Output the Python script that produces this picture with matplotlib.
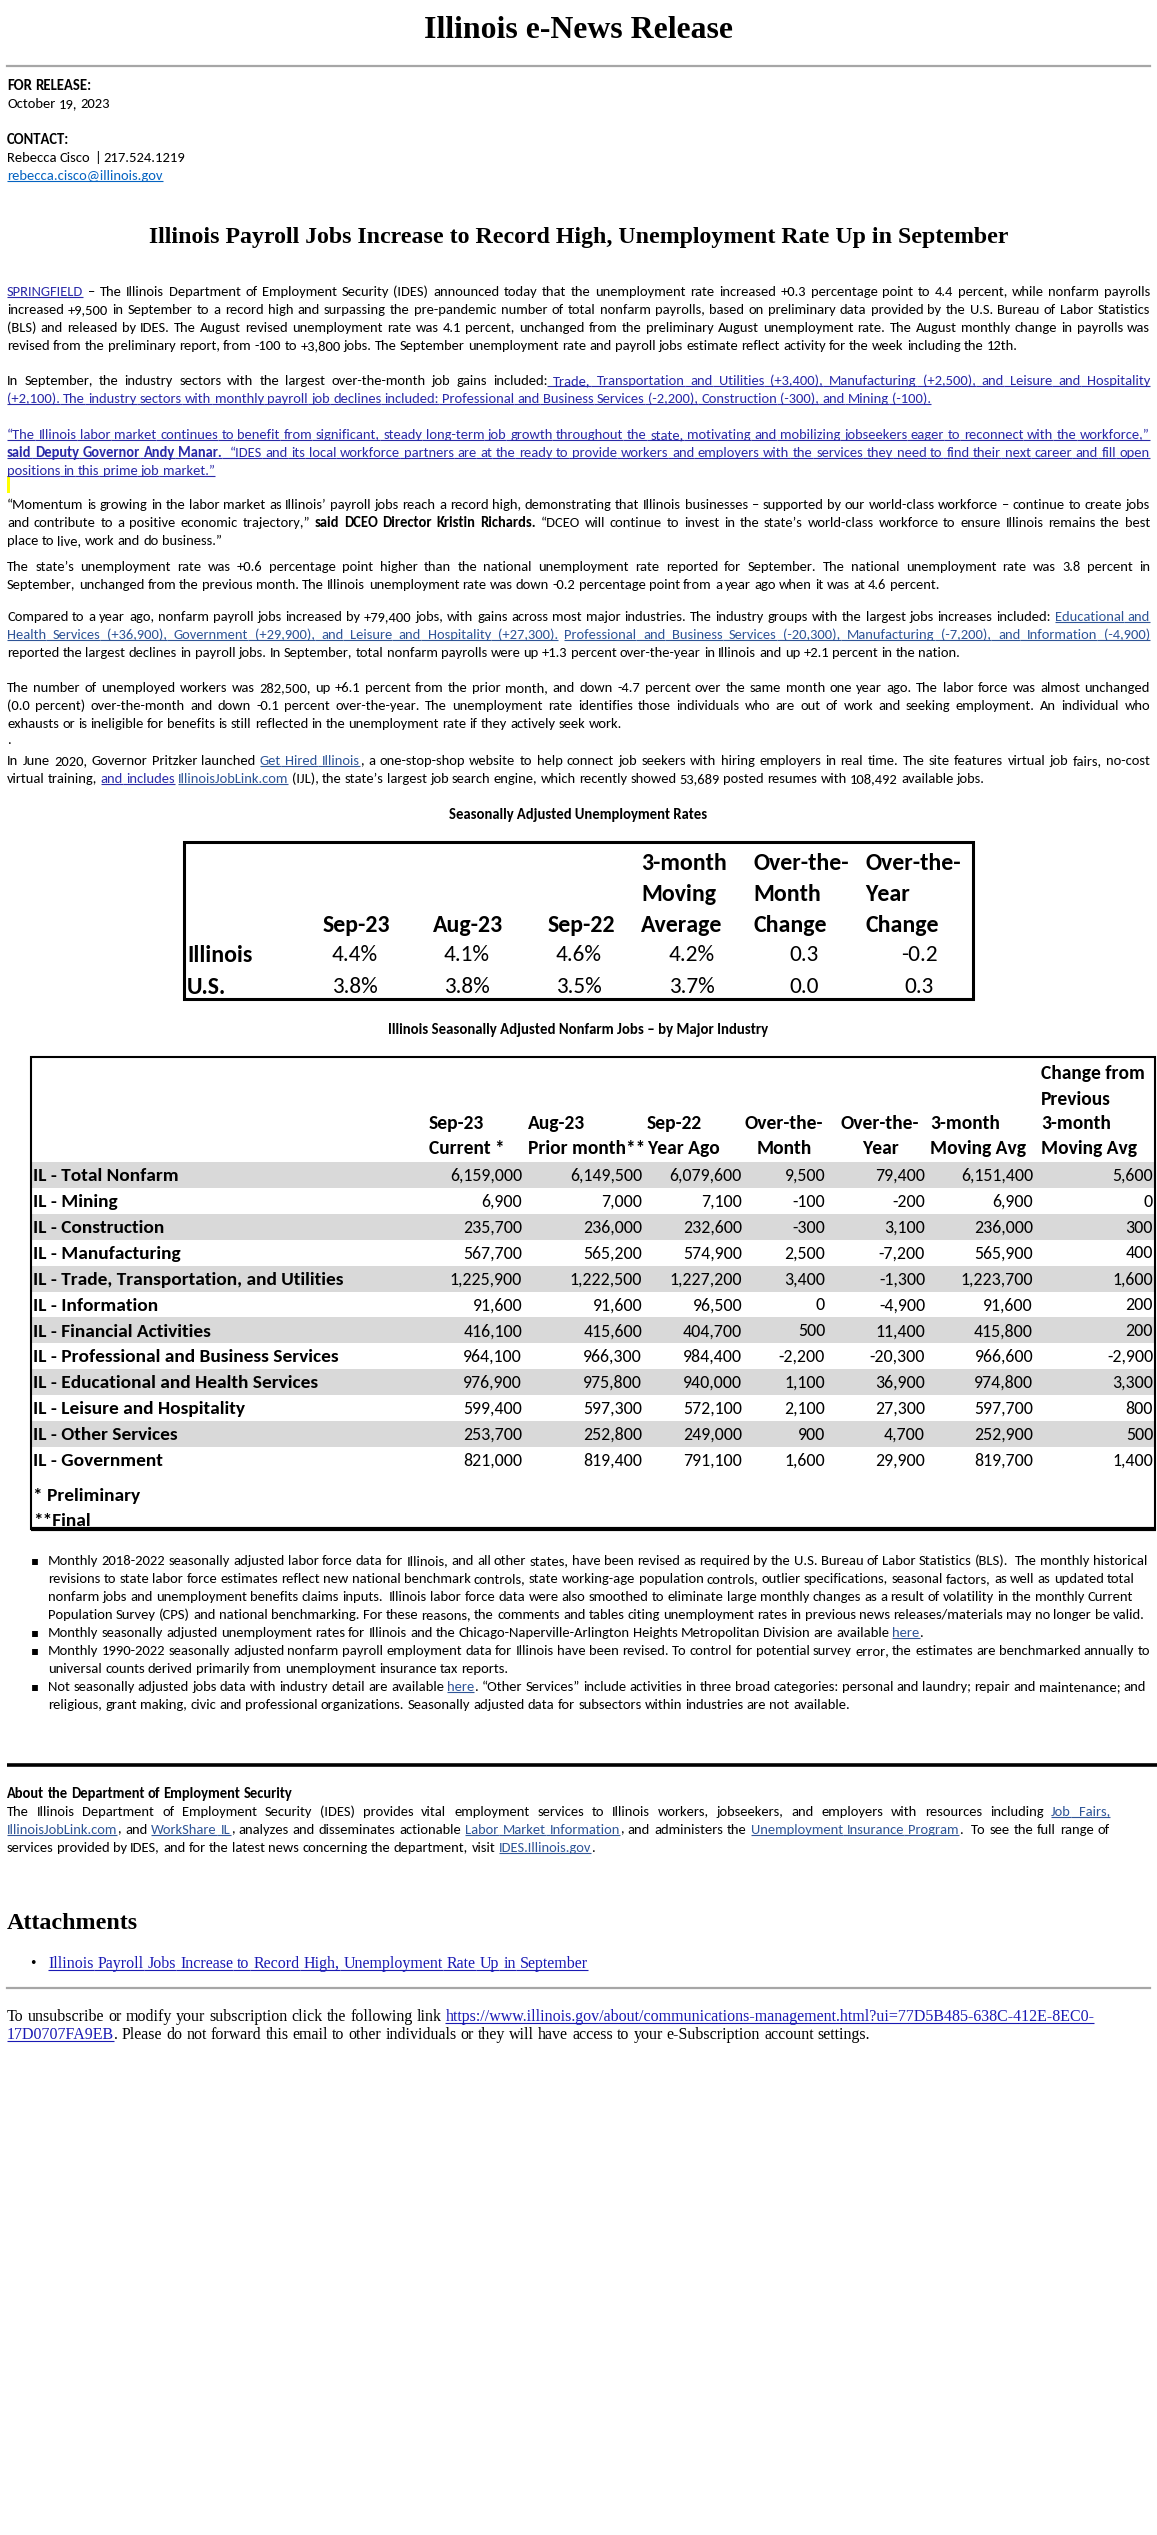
import matplotlib
matplotlib.use("Agg")
import matplotlib.pyplot as plt
from matplotlib.font_manager import FontProperties, fontManager
from matplotlib.patches import Rectangle

# ---------------------------------------------------------------- data
page_title = "Illinois e-News Release"
release_label = "FOR RELEASE:"
release_date = "October 19, 2023"
contact_label = "CONTACT:"
contact_line = "Rebecca Cisco | 217.524.1219"
contact_email = "rebecca.cisco@illinois.gov"
headline = "Illinois Payroll Jobs Increase to Record High, Unemployment Rate Up in September"

t1_title = "Seasonally Adjusted Unemployment Rates"
t1_columns = [["Sep-23"], ["Aug-23"], ["Sep-22"],
              ["3-month", "Moving", "Average"],
              ["Over-the-", "Month", "Change"],
              ["Over-the-", "Year", "Change"]]
t1_rows = ["Illinois", "U.S."]
t1_illinois = ["4.4%", "4.1%", "4.6%", "4.2%", "0.3", "-0.2"]
t1_us = ["3.8%", "3.8%", "3.5%", "3.7%", "0.0", "0.3"]

t2_title = "Illinois Seasonally Adjusted Nonfarm Jobs \u2013 by Major Industry"
t2_columns = [["Sep-23", "Current *"], ["Aug-23", "Prior month**"], ["Sep-22", "Year Ago"],
              ["Over-the-", "Month"], ["Over-the-", "Year"], ["3-month", "Moving Avg"],
              ["Change from", "Previous", "3-month", "Moving Avg"]]
industries = ["IL - Total Nonfarm", "IL - Mining", "IL - Construction", "IL - Manufacturing",
              "IL - Trade, Transportation, and Utilities", "IL - Information",
              "IL - Financial Activities", "IL - Professional and Business Services",
              "IL - Educational and Health Services", "IL - Leisure and Hospitality",
              "IL - Other Services", "IL - Government"]
jobs_sep23 = [6159000, 6900, 235700, 567700, 1225900, 91600, 416100, 964100, 976900, 599400, 253700, 821000]
jobs_aug23 = [6149500, 7000, 236000, 565200, 1222500, 91600, 415600, 966300, 975800, 597300, 252800, 819400]
jobs_sep22 = [6079600, 7100, 232600, 574900, 1227200, 96500, 404700, 984400, 940000, 572100, 249000, 791100]
chg_month = [9500, -100, -300, 2500, 3400, 0, 500, -2200, 1100, 2100, 900, 1600]
chg_year = [79400, -200, 3100, -7200, -1300, -4900, 11400, -20300, 36900, 27300, 4700, 29900]
moving_avg3 = [6151400, 6900, 236000, 565900, 1223700, 91600, 415800, 966600, 974800, 597700, 252900, 819700]
chg_moving_avg = [5600, 0, 300, 400, 1600, 200, 200, -2900, 3300, 800, 500, 1400]
t2_footnotes = ["* Preliminary", "**Final"]

# ---------------------------------------------------------------- styles
LINK_DARK = "#2a2aa8"
LINK_LIGHT = "#2f5597"
LINK_SERIF = "#1a1ab4"
N = dict(color="black", weight="normal", ul=False)
B = dict(color="black", weight="bold", ul=False)
LD = dict(color=LINK_DARK, weight="normal", ul=True)
LDB = dict(color=LINK_DARK, weight="bold", ul=True)
LL = dict(color=LINK_LIGHT, weight="normal", ul=True)
LS = dict(color=LINK_SERIF, weight="normal", ul=True)

# ---------------------------------------------------------------- text content
paragraphs = [
    [[("SPRINGFIELD", LD), (" \u2013 The Illinois Department of Employment Security (IDES) announced today that the unemployment rate increased +0.3 percentage point to 4.4 percent, while nonfarm payrolls", N)],
     [("increased +9,500 in September to a record high and surpassing the pre-pandemic number of total nonfarm payrolls, based on preliminary data provided by the U.S. Bureau of Labor Statistics", N)],
     [("(BLS) and released by IDES. The August revised unemployment rate was 4.1 percent, unchanged from the preliminary August unemployment rate. The August monthly change in payrolls was", N)],
     [("revised from the preliminary report, from -100 to +3,800 jobs. The September unemployment rate and payroll jobs estimate reflect activity for the week including the 12th.", N)]],
    [[("In September, the industry sectors with the largest over-the-month job gains included:", N), (" Trade, Transportation and Utilities (+3,400), Manufacturing (+2,500), and Leisure and Hospitality", LD)],
     [("(+2,100). The industry sectors with monthly payroll job declines included: Professional and Business Services (-2,200), Construction (-300), and Mining (-100).", LD)]],
    [[("\u201cThe Illinois labor market continues to benefit from significant, steady long-term job growth throughout the state, motivating and mobilizing jobseekers eager to reconnect with the workforce,\u201d", LD)],
     [("said Deputy Governor Andy Manar.", LDB), ("  \u201cIDES and its local workforce partners are at the ready to provide workers and employers with the services they need to find their next career and fill open", LD)],
     [("positions in this prime job market.\u201d", LD)]],
    [[("\u201cMomentum is growing in the labor market as Illinois\u2019 payroll jobs reach a record high, demonstrating that Illinois businesses \u2013 supported by our world-class workforce \u2013 continue to create jobs", N)],
     [("and contribute to a positive economic trajectory,\u201d", N), (" said DCEO Director Kristin Richards.", B), (" \u201cDCEO will continue to invest in the state\u2019s world-class workforce to ensure Illinois remains the best", N)],
     [("place to live, work and do business.\u201d", N)]],
    [[("The state\u2019s unemployment rate was +0.6 percentage point higher than the national unemployment rate reported for September. The national unemployment rate was 3.8 percent in", N)],
     [("September, unchanged from the previous month. The Illinois unemployment rate was down -0.2 percentage point from a year ago when it was at 4.6 percent.", N)]],
    [[("Compared to a year ago, nonfarm payroll jobs increased by +79,400 jobs, with gains across most major industries. The industry groups with the largest jobs increases included: ", N), ("Educational and", LL)],
     [("Health Services (+36,900), Government (+29,900), and Leisure and Hospitality (+27,300).", LL), (" ", N), ("Professional and Business Services (-20,300), Manufacturing (-7,200), and Information (-4,900)", LL)],
     [("reported the largest declines in payroll jobs. In September, total nonfarm payrolls were up +1.3 percent over-the-year in Illinois and up +2.1 percent in the nation.", N)]],
    [[("The number of unemployed workers was 282,500, up +6.1 percent from the prior month, and down -4.7 percent over the same month one year ago. The labor force was almost unchanged", N)],
     [("(0.0 percent) over-the-month and down -0.1 percent over-the-year. The unemployment rate identifies those individuals who are out of work and seeking employment. An individual who", N)],
     [("exhausts or is ineligible for benefits is still reflected in the unemployment rate if they actively seek work.", N)]],
    [[("In June 2020, Governor Pritzker launched ", N), ("Get Hired Illinois", LL), (", a one-stop-shop website to help connect job seekers with hiring employers in real time. The site features virtual job fairs, no-cost", N)],
     [("virtual training, ", N), ("and includes", LD), (" ", N), ("IllinoisJobLink.com", LL), (" (IJL), the state\u2019s largest job search engine, which recently showed 53,689 posted resumes with 108,492 available jobs.", N)]],
]
paragraph_y = [[291, 309, 327, 345], [380, 398], [434, 452, 470], [504, 522, 540],
               [566, 584], [616, 634, 652], [687, 705, 723], [760, 778]]

bullets = [
    [[("Monthly 2018-2022 seasonally adjusted labor force data for Illinois, and all other states, have been revised as required by the U.S. Bureau of Labor Statistics (BLS).  The monthly historical", N)],
     [("revisions to state labor force estimates reflect new national benchmark controls, state working-age population controls, outlier specifications, seasonal factors, as well as updated total", N)],
     [("nonfarm jobs and unemployment benefits claims inputs.  Illinois labor force data were also smoothed to eliminate large monthly changes as a result of volatility in the monthly Current", N)],
     [("Population Survey (CPS) and national benchmarking. For these reasons, the comments and tables citing unemployment rates in previous news releases/materials may no longer be valid.", N)]],
    [[("Monthly seasonally adjusted unemployment rates for Illinois and the Chicago-Naperville-Arlington Heights Metropolitan Division are available ", N), ("here", LL), (".", N)]],
    [[("Monthly 1990-2022 seasonally adjusted nonfarm payroll employment data for Illinois have been revised. To control for potential survey error, the estimates are benchmarked annually to", N)],
     [("universal counts derived primarily from unemployment insurance tax reports.", N)]],
    [[("Not seasonally adjusted jobs data with industry detail are available ", N), ("here", LL), (". \u201cOther Services\u201d include activities in three broad categories: personal and laundry; repair and maintenance; and", N)],
     [("religious, grant making, civic and professional organizations. Seasonally adjusted data for subsectors within industries are not available.", N)]],
]
bullet_y = [[1560, 1578, 1596, 1614], [1632], [1650, 1668], [1686, 1704]]

about_title = "About the Department of Employment Security"
about_lines = [
    [("The Illinois Department of Employment Security (IDES) provides vital employment services to Illinois workers, jobseekers, and employers with resources including ", N), ("Job Fairs,", LL)],
    [("IllinoisJobLink.com", LL), (", and ", N), ("WorkShare IL", LL), (", analyzes and disseminates actionable ", N), ("Labor Market Information", LL), (", and administers the ", N), ("Unemployment Insurance Program", LL), (".  To see the full range of", N)],
    [("services provided by IDES, and for the latest news concerning the department, visit ", N), ("IDES.Illinois.gov", LL), (".", N)],
]

attach_title = "Attachments"
attach_link = "Illinois Payroll Jobs Increase to Record High, Unemployment Rate Up in September"
unsub_lines = [
    [("To unsubscribe or modify your subscription click the following link ", N), ("https://www.illinois.gov/about/communications-management.html?ui=77D5B485-638C-412E-8EC0-", LS)],
    [("17D0707FA9EB", LS), (". Please do not forward this email to other individuals or they will have access to your e-Subscription account settings.", N)],
]

# ---------------------------------------------------------------- figure
W, H = 1157, 2535
fig = plt.figure(figsize=(W / 100, H / 100), dpi=100)
fig.patch.set_facecolor("white")
ax = fig.add_axes([0, 0, 1, 1])
ax.set_xlim(0, W)
ax.set_ylim(H, 0)
ax.axis("off")
renderer = fig.canvas.get_renderer()

avail = {f.name for f in fontManager.ttflist}
SANS_NAME = next(f for f in ["Carlito", "Lato", "Liberation Sans Narrow", "DejaVu Sans"] if f in avail or f == "DejaVu Sans")
SERIF_NAME = "Liberation Serif" if "Liberation Serif" in avail else "DejaVu Serif"
SANS = [SANS_NAME, "DejaVu Sans"]
SERIF = [SERIF_NAME, "DejaVu Serif"]


def text_w(s, fam, size, weight="normal"):
    fp = FontProperties(family=fam, size=size, weight=weight)
    return renderer.get_text_width_height_descent(s, fp, ismath=False)[0]


def fit(s, fam, weight, target):
    return 10.0 * target / text_w(s, fam, 10.0, weight)


def plain(segs):
    return "".join(t for t, _ in segs)


def tokenize(segs):
    toks = []
    cur = None
    nsp = 0
    sst = None
    for text, st in segs:
        for ch in text:
            if ch == " ":
                if cur is not None:
                    toks.append(tuple(cur))
                    cur = None
                nsp += 1
                sst = st
            else:
                if cur is not None and cur[1] is st:
                    cur[0] += ch
                else:
                    if cur is not None:
                        toks.append(tuple(cur))
                    cur = [ch, st, nsp, sst]
                    nsp = 0
                    sst = None
    if cur is not None:
        toks.append(tuple(cur))
    return toks


def draw_line(segs, x0, yc, size, fam, right=None):
    if isinstance(segs, str):
        segs = [(segs, N)]
    toks = tokenize(segs)
    sp = text_w("n n", fam, size) - text_w("nn", fam, size)
    ws = [text_w(t, fam, size, st["weight"]) for t, st, _, _ in toks]
    nsp_total = sum(n for _, _, n, _ in toks[1:])
    natural = sum(ws) + sp * nsp_total
    unit = sp
    if right is not None and nsp_total > 0:
        unit = sp + (right - x0 - natural) / nsp_total
    px = size * 100 / 72
    base = yc + 0.32 * px
    x = x0
    for i, (t, st, n, sst) in enumerate(toks):
        g0 = x
        if i > 0:
            x += n * unit
        ax.text(x, base, t, fontsize=size, family=fam, weight=st["weight"],
                color=st["color"], ha="left", va="baseline")
        if st["ul"]:
            xs = g0 if (i > 0 and n > 0 and sst is not None and sst["ul"]) else x
            ax.plot([xs, x + ws[i]], [base + 0.12 * px] * 2, color=st["color"],
                    lw=0.8, solid_capstyle="butt")
        x += ws[i]


def ctext(x, yc, s, size, fam, weight="normal", ha="center", color="black"):
    px = size * 100 / 72
    ax.text(x, yc + 0.32 * px, s, fontsize=size, family=fam, weight=weight,
            color=color, ha=ha, va="baseline")


# ---------------------------------------------------------------- sizes
s_body = fit(plain(paragraphs[0][3]), SANS, "normal", 1019)
s_bul = fit(plain(bullets[0][3]), SANS, "normal", 1101)
s_about = fit(plain(about_lines[2]), SANS, "normal", 591)
s_head = fit(contact_line, SANS, "normal", 179)
s_t1title = fit(t1_title, SANS, "bold", 257)
s_t2title = fit(t2_title, SANS, "bold", 378)
s_t1h = fit("Sep-23", SANS, "bold", 67)
s_t1v = fit("4.4%", SANS, "normal", 46)
s_t2h = fit("Prior month**", SANS, "bold", 118)
s_t2v = fit("1,225,900", SANS, "normal", 73)
s_t2l = fit("IL - Trade, Transportation, and Utilities", SANS, "bold", 310)
s_title = fit(page_title, SERIF, "bold", 310)
s_headline = fit(headline, SERIF, "bold", 859)
s_att = fit(attach_title, SERIF, "bold", 131)
s_serif = fit(plain(unsub_lines[1]), SERIF, "normal", 866)

LEFT, RIGHT = 7, 1150

# ---------------------------------------------------------------- header
ctext(W / 2, 28, page_title, s_title, SERIF, "bold")
ax.plot([LEFT, RIGHT], [66, 66], color="#a6a6a6", lw=1.6)
draw_line([(release_label, B)], LEFT, 85, s_head, SANS)
draw_line(release_date, LEFT, 103, s_head, SANS)
draw_line([(contact_label, B)], LEFT, 139, s_head, SANS)
draw_line(contact_line, LEFT, 157, s_head, SANS)
draw_line([(contact_email, dict(color="#0563c1", weight="normal", ul=True))], LEFT, 175, s_head, SANS)
ctext(W / 2, 235, headline, s_headline, SERIF, "bold")

# ---------------------------------------------------------------- body paragraphs
for para, ys in zip(paragraphs, paragraph_y):
    for k, (line, y) in enumerate(zip(para, ys)):
        draw_line(line, LEFT, y, s_body, SANS, right=RIGHT if k < len(para) - 1 else None)

ax.add_patch(Rectangle((7, 476), 3, 17, facecolor="#ffff00", edgecolor="none"))
draw_line(".", LEFT, 739, s_body, SANS)

# ---------------------------------------------------------------- table 1
ctext(W / 2, 814, t1_title, s_t1title, SANS, "bold")
ax.add_patch(Rectangle((184, 842), 973 - 184, 999 - 842, fill=False, edgecolor="black", lw=2.2))
t1_hx = [356, 468, 581, 641, 753, 865]
t1_hha = ["center", "center", "center", "left", "left", "left"]
t1_vx = [355, 467, 579, 692, 804, 919]
t1_hy = [862, 893, 924]
t1_ry = [954, 986]
for j, col in enumerate(t1_columns):
    for k, line in enumerate(col):
        ctext(t1_hx[j], t1_hy[len(t1_hy) - len(col) + k], line, s_t1h, SANS, "bold", ha=t1_hha[j])
for i, (lab, vals) in enumerate(zip(t1_rows, [t1_illinois, t1_us])):
    ctext(187, t1_ry[i], lab, s_t1h, SANS, "bold", ha="left")
    for j, v in enumerate(vals):
        ctext(t1_vx[j], t1_ry[i], v, s_t1v, SANS, "normal", ha="center")

# ---------------------------------------------------------------- table 2
ctext(W / 2, 1029, t2_title, s_t2title, SANS, "bold")
BX0, BX1, BY0, BY1 = 31, 1155, 1057, 1529
row_y0, row_step = 1175, 25.9
for i in range(len(industries)):
    if i % 2 == 0:
        ax.add_patch(Rectangle((BX0 + 1, row_y0 + i * row_step - row_step / 2), BX1 - BX0 - 2, row_step,
                               facecolor="#d9d9d9", edgecolor="none", zorder=0))
ax.add_patch(Rectangle((BX0, BY0), BX1 - BX0, BY1 - BY0, fill=False, edgecolor="black", lw=1.5))
ax.plot([BX0, BX1 + 1], [BY1, BY1], color="black", lw=3.0, solid_capstyle="butt")
t2_hx = [429, 528, 647, 784, 880, 930, 1041]
t2_hha = ["left", "left", "left", "center", "center", "left", "left"]
t2_hy = [1073, 1099, 1123, 1148]
for j, col in enumerate(t2_columns):
    for k, line in enumerate(col):
        ctext(t2_hx[j], t2_hy[len(t2_hy) - len(col) + k], line, s_t2h, SANS, "bold", ha=t2_hha[j])
t2_vx = [522, 642, 742, 825, 925, 1033, 1153]
t2_series = [jobs_sep23, jobs_aug23, jobs_sep22, chg_month, chg_year, moving_avg3, chg_moving_avg]
for i, name in enumerate(industries):
    y = row_y0 + i * row_step
    ctext(33, y, name, s_t2l, SANS, "bold", ha="left")
    for j, series in enumerate(t2_series):
        ctext(t2_vx[j], y, f"{series[i]:,}", s_t2v, SANS, "normal", ha="right")
for k, note in enumerate(t2_footnotes):
    ctext(33, [1495, 1520][k], note, s_t2l, SANS, "bold", ha="left")

# ---------------------------------------------------------------- bullet notes
for blines, ys in zip(bullets, bullet_y):
    ctext(35, ys[0], "\u25aa", s_bul * 0.8, ["DejaVu Sans"], "normal", ha="center")
    for line, y in zip(blines, ys):
        draw_line(line, 48, y, s_bul, SANS)

ax.plot([LEFT, W], [1765, 1765], color="black", lw=2.6, solid_capstyle="butt")

# ---------------------------------------------------------------- about
draw_line([(about_title, B)], LEFT, 1793, s_about, SANS)
for k, (line, y) in enumerate(zip(about_lines, [1811, 1829, 1847])):
    draw_line(line, LEFT, y, s_about, SANS, right=1110 if k < 2 else None)

# ---------------------------------------------------------------- attachments / footer
ctext(LEFT, 1921, attach_title, s_att, SERIF, "bold", ha="left")
ctext(33, 1963, "\u2022", s_serif, SERIF, "normal", ha="center")
draw_line([(attach_link, LS)], 48, 1963, s_serif, SERIF)
ax.plot([LEFT, RIGHT], [1988, 1988], color="#a6a6a6", lw=1.6)
for line, y in zip(unsub_lines, [2016, 2034]):
    draw_line(line, LEFT, y, s_serif, SERIF)

fig.savefig("out.png", dpi=100, facecolor="white")
